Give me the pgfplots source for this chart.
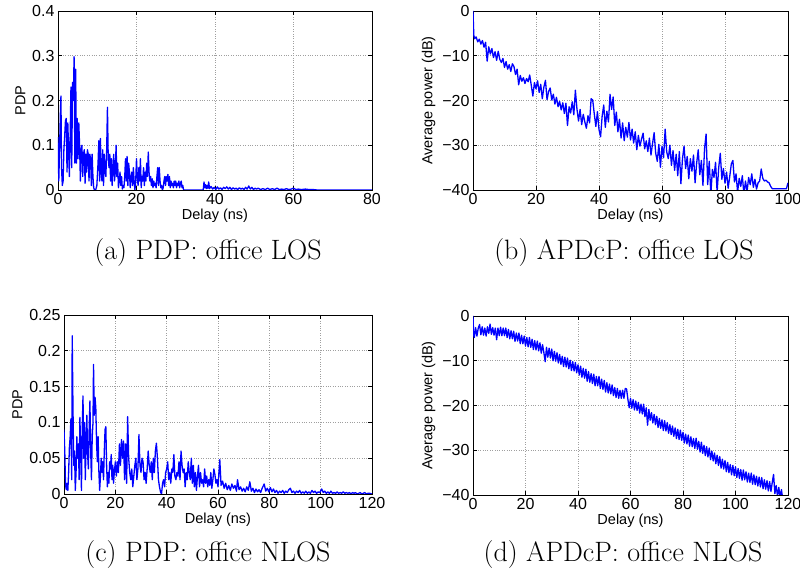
\documentclass[border=0pt]{standalone}
\usepackage{fontspec}
\newfontfamily\helv{Liberation Sans}
\newfontfamily\capfont{lmroman17-regular}[Extension=.otf]
\usepackage{pgfplots}
\usepackage{pgfplotstable}
\pgfplotsset{compat=1.18}

\pgfplotstableread{
x y
0 0.118
0.2 0.02
0.4 0.09
0.6 0.17
0.75 0.21
0.9 0.05
1.1 0.01
1.3 0.02
1.5 0.09
1.7 0.12
1.9 0.155
2.1 0.16
2.3 0.04
2.5 0.15
2.7 0.09
2.9 0.03
3.1 0.12
3.3 0.23
3.5 0.05
3.7 0.24
3.9 0.20
4.1 0.298
4.3 0.06
4.5 0.27
4.7 0.06
4.9 0.16
5.1 0.07
5.3 0.15
5.5 0.10
5.7 0.02
5.9 0.09
6.1 0.10
6.3 0.03
6.5 0.08
6.7 0.09
6.9 0.015
7.1 0.08
7.3 0.04
7.5 0.09
7.7 0.08
7.9 0.02
8.1 0.08
8.3 0.07
8.5 0.01
8.7 0.08
8.9 0.03
9.1 0.005
9.3 0.0
9.6 0.0
9.9 0.01
10.2 0.06
10.4 0.11
10.6 0.02
10.8 0.115
11.0 0.04
11.2 0.02
11.4 0.09
11.6 0.01
11.8 0.08
12.0 0.04
12.2 0.03
12.4 0.09
12.6 0.185
12.8 0.07
13.0 0.05
13.2 0.08
13.4 0.02
13.6 0.07
13.8 0.01
14.0 0.05
14.2 0.08
14.4 0.02
14.6 0.04
14.8 0.10
15.0 0.03
15.2 0.06
15.4 0.005
15.6 0.02
15.8 0.04
16.0 0.01
16.2 0.03
16.4 0.002
16.6 0.01
16.8 0.005
17.0 0.03
17.2 0.07
17.4 0.02
17.6 0.075
17.8 0.01
18.0 0.06
18.2 0.04
18.4 0.005
18.6 0.03
18.8 0.04
19.0 0.01
19.2 0.05
19.4 0.02
19.6 0.0
19.8 0.02
20.0 0.07
20.2 0.03
20.4 0.01
20.6 0.05
20.8 0.02
21.0 0.07
21.2 0.005
21.4 0.03
21.6 0.02
21.8 0.05
22.0 0.01
22.2 0.04
22.4 0.02
22.6 0.06
22.8 0.03
23.0 0.085
23.2 0.04
23.4 0.02
23.6 0.03
23.8 0.01
24.0 0.025
24.2 0.005
24.4 0.02
24.6 0.01
24.8 0.015
25.0 0.005
25.2 0.03
25.4 0.05
25.6 0.01
25.8 0.05
26.0 0.02
26.2 0.005
26.4 0.01
26.6 0.0
26.8 0.005
27.0 0.02
27.2 0.03
27.4 0.01
27.6 0.03
27.8 0.02
28.0 0.035
28.2 0.01
28.4 0.03
28.6 0.005
28.8 0.02
29.0 0.01
29.2 0.015
29.4 0.005
29.6 0.02
29.8 0.01
30.0 0.02
30.2 0.005
30.4 0.015
30.6 0.01
30.8 0.02
31.0 0.005
31.2 0.015
31.4 0.02
31.6 0.005
31.8 0.01
32.0 0.0
37.0 0.0
37.2 0.018
37.4 0.005
37.6 0.012
37.8 0.003
38.0 0.01
38.2 0.004
38.4 0.018
38.6 0.003
39.0 0.008
39.4 0.002
39.8 0.006
40.2 0.001
40.6 0.007
41.0 0.002
41.4 0.005
41.8 0.001
42.2 0.006
42.6 0.003
43.0 0.007
43.4 0.002
43.8 0.006
44.2 0.001
44.6 0.005
45.0 0.002
45.4 0.004
45.8 0.001
46.2 0.005
46.6 0.002
47.0 0.004
47.4 0.001
47.8 0.006
48.2 0.002
48.6 0.009
49.0 0.002
49.4 0.006
49.8 0.001
50.2 0.004
50.6 0.002
51.0 0.004
51.6 0.001
52.2 0.003
52.8 0.001
53.4 0.004
54.0 0.001
54.6 0.003
55.2 0.001
55.8 0.004
56.4 0.001
57.0 0.002
57.6 0.001
58.2 0.003
58.8 0.001
59.4 0.002
60.0 0.004
60.6 0.001
61.2 0.002
62.0 0.001
63.0 0.002
64.0 0.001
65.0 0.001
66.0 0.0
80.0 0.0
}\dataA

\pgfplotstableread{
x y
0 0
0.25 -5.4
0.5 -6.2
1 -5.8
1.5 -6.9
2 -6.3
2.5 -7.4
3 -6.6
3.5 -8.1
4 -7.0
4.5 -11.2
5 -8.0
5.5 -9.6
6 -8.4
6.5 -10.4
7 -9.1
7.5 -11.0
8 -9.0
8.5 -10.8
9 -11.5
9.5 -10.6
10 -12.6
10.5 -11.3
11 -13.0
11.5 -12.0
12 -13.5
12.5 -11.8
13 -12.4
13.5 -14.2
14 -13.0
14.5 -16.5
15 -14.4
15.5 -15.7
16 -14.9
16.5 -16.2
17 -15.1
17.5 -15.8
18 -14.3
18.5 -16.6
19 -19.0
19.5 -16.0
20 -17.4
20.5 -15.6
21 -18.2
21.5 -16.4
22 -19.6
22.5 -17.0
23 -15.5
23.5 -19.8
24 -18.0
24.5 -17.2
25 -19.9
25.5 -18.6
26 -20.8
26.5 -19.3
27 -21.4
27.5 -20.2
28 -22.1
28.5 -20.5
29 -22.9
29.5 -20.6
30 -25.6
30.5 -21.4
31 -22.8
31.5 -20.3
32 -23.2
32.5 -17.7
33 -21.9
33.5 -24.6
34 -22.0
34.5 -25.4
35 -23.1
35.5 -24.8
36 -26.2
36.5 -23.4
37 -25.0
37.5 -19.6
38 -19.9
38.5 -23.0
39 -25.8
39.5 -22.5
40 -26.5
40.5 -28.1
41 -23.5
41.5 -21.0
42 -26.0
42.5 -22.4
43 -24.8
43.5 -18.6
44 -22.0
44.5 -19.2
45 -25.6
45.5 -22.6
46 -27.0
46.5 -24.2
47 -28.4
47.5 -25.0
48 -29.0
48.5 -26.0
49 -28.2
49.5 -24.9
50 -28.8
50.5 -26.4
51 -29.5
51.5 -27.0
52 -31.0
52.5 -27.8
53 -30.2
53.5 -28.6
54 -27.3
54.5 -30.8
55 -29.0
55.5 -31.4
56 -28.4
56.5 -32.2
57 -29.6
57.5 -27.2
58 -31.8
58.5 -33.6
59 -29.8
59.5 -34.9
60 -30.2
60.5 -32.8
61 -26.4
61.5 -31.5
62 -33.0
62.5 -30.0
63 -34.5
63.5 -31.2
64 -35.6
64.5 -32.0
65 -36.8
65.5 -31.4
66 -38.6
66.5 -33.0
67 -30.2
67.5 -35.2
68 -32.5
68.5 -37.5
69 -33.0
69.5 -35.8
70 -32.2
70.5 -38.4
71 -34.0
71.5 -31.0
72 -36.6
72.5 -33.4
73 -39.0
73.5 -30.8
74 -27.5
74.5 -38.8
75 -33.6
75.5 -41.0
76 -35.4
76.5 -37.2
77 -33.8
77.5 -40.5
78 -35.0
78.5 -31.8
79 -37.6
79.5 -35.2
80 -38.5
80.5 -36.0
81 -39.6
81.5 -37.0
82 -34.2
82.5 -33.4
83 -38.2
83.5 -36.4
84 -40.5
84.5 -37.4
85 -39.2
85.5 -36.8
86 -41.0
86.5 -38.0
87 -40.4
87.5 -37.2
88 -38.8
88.5 -36.4
89 -39.4
89.5 -37.6
90 -39.8
90.5 -38.4
91 -38.0
91.5 -35.3
92 -37.4
92.5 -38.0
93 -37.8
93.5 -38.2
94 -38.4
94.5 -39.2
95 -39.7
99.5 -39.7
100 -38.4
}\dataB

\pgfplotstableread{
x y
0 0.09
0.3 0.06
0.6 0.012
0.9 0.006
1.2 0.015
1.5 0.005
1.8 0.03
2.1 0.065
2.4 0.08
2.7 0.105
3.0 0.02
3.2 0.221
3.5 0.12
3.8 0.04
4.1 0.06
4.4 0.005
4.7 0.03
5.0 0.08
5.3 0.05
5.6 0.07
5.9 0.02
6.2 0.107
6.5 0.06
6.8 0.005
7.1 0.09
7.4 0.137
7.7 0.05
8.0 0.10
8.3 0.02
8.6 0.07
8.9 0.11
9.2 0.055
9.5 0.035
9.8 0.09
10.1 0.13
10.4 0.06
10.7 0.02
11.0 0.08
11.3 0.10
11.5 0.181
11.8 0.11
12.1 0.135
12.4 0.12
12.7 0.07
13.0 0.045
13.3 0.08
13.6 0.03
13.9 0.005
14.2 0.025
14.5 0.05
14.8 0.03
15.1 0.045
15.4 0.02
15.7 0.06
16.0 0.09
16.3 0.094
16.6 0.04
16.9 0.01
17.2 0.03
17.5 0.015
17.8 0.045
18.1 0.035
18.4 0.055
18.7 0.02
19.0 0.04
19.3 0.015
19.6 0.03
20.0 0.045
20.4 0.025
20.8 0.045
21.2 0.03
21.6 0.07
22.0 0.04
22.4 0.076
22.8 0.05
23.2 0.074
23.6 0.02
24.0 0.07
24.4 0.015
24.8 0.108
25.2 0.05
25.6 0.03
26.0 0.02
26.4 0.035
26.8 0.01
27.2 0.025
27.6 0.04
28.0 0.05
28.4 0.02
28.8 0.035
29.2 0.083
29.6 0.04
30.0 0.03
30.4 0.05
30.8 0.045
31.2 0.02
31.6 0.03
32.0 0.015
32.4 0.035
32.8 0.06
33.2 0.04
33.6 0.03
34.0 0.045
34.4 0.02
34.8 0.05
35.2 0.03
35.6 0.06
36.0 0.071
36.4 0.05
36.8 0.02
37.2 0.01
37.6 0.003
38.0 0.0
38.4 0.015
38.8 0.02
39.2 0.01
39.6 0.03
40.0 0.035
40.4 0.045
40.8 0.02
41.2 0.03
41.6 0.015
42.0 0.035
42.4 0.03
42.8 0.055
43.2 0.025
43.6 0.02
44.0 0.03
44.4 0.025
44.8 0.045
45.2 0.02
45.6 0.06
46.0 0.04
46.4 0.03
46.8 0.035
47.2 0.01
47.6 0.03
48.0 0.02
48.4 0.045
48.8 0.03
49.2 0.02
49.6 0.05
50.0 0.015
50.4 0.04
50.8 0.01
51.2 0.03
51.6 0.005
52.0 0.025
52.4 0.04
52.8 0.01
53.2 0.03
53.6 0.015
54.0 0.02
54.4 0.01
54.8 0.035
55.2 0.015
55.6 0.025
56.0 0.01
56.4 0.02
56.8 0.012
57.2 0.03
57.6 0.008
58.0 0.02
58.4 0.035
58.8 0.027
59.2 0.015
59.6 0.02
60.0 0.01
60.7 0.048
61.2 0.012
61.8 0.018
62.4 0.008
63.0 0.015
63.6 0.006
64.2 0.012
64.8 0.005
65.4 0.014
66.0 0.008
66.6 0.012
67.2 0.004
67.6 0.02
68.2 0.006
68.8 0.01
69.4 0.004
70.0 0.008
70.6 0.003
71.2 0.01
71.8 0.005
72.4 0.017
73.0 0.004
73.6 0.008
74.2 0.002
74.8 0.007
75.4 0.003
76.0 0.006
76.6 0.002
77.2 0.008
78.0 0.014
78.6 0.004
79.2 0.008
79.8 0.003
80.4 0.009
81.0 0.003
81.6 0.007
82.2 0.002
82.8 0.005
83.4 0.001
84.0 0.004
84.6 0.002
85.2 0.005
85.8 0.001
86.4 0.004
87.0 0.002
87.6 0.006
88.2 0.008
88.8 0.002
89.4 0.004
90.0 0.001
90.6 0.004
91.2 0.002
91.8 0.005
92.4 0.001
93.0 0.003
93.6 0.001
94.2 0.004
94.8 0.001
95.4 0.003
96.0 0.001
96.6 0.005
97.2 0.002
97.8 0.004
98.4 0.001
99.0 0.003
99.6 0.002
100.4 0.007
101.0 0.002
101.6 0.004
102.2 0.001
102.8 0.003
103.4 0.001
104.0 0.004
104.6 0.001
105.2 0.002
105.8 0.001
106.4 0.003
107.0 0.001
107.6 0.002
108.2 0.001
108.8 0.003
109.4 0.001
110.0 0.002
110.6 0.001
111.2 0.002
111.8 0.0
112.4 0.002
113.0 0.001
113.6 0.002
114.2 0.0
114.8 0.001
115.4 0.002
116.0 0.0
116.6 0.001
117.2 0.002
117.8 0.0
118.4 0.001
119.0 0.001
120.0 0.0
}\dataC

\pgfplotstableread{
x y
0 0
0.25 -4.2
0.5 -4.8
1 -2.6
1.5 -4.5
2 -2.7
2.5 -1.9
3 -4.2
3.5 -2.4
4 -4.3
4.5 -2.7
5 -4.5
5.5 -2.4
6 -3.9
6.5 -1.8
7 -4.1
7.5 -2.6
8 -4.3
8.5 -2.7
9 -5.3
9.5 -2.7
10 -4.4
10.5 -2.5
11 -4.4
11.5 -2.7
12 -4.4
12.5 -2.7
13 -4.8
13.5 -3.0
14 -5.1
14.5 -3.3
15 -5.1
15.5 -3.4
16 -5.7
16.5 -3.8
17 -5.6
17.5 -3.8
18 -6.2
18.5 -4.3
19 -6.2
19.5 -4.5
20 -6.7
20.5 -4.8
21 -6.9
21.5 -4.8
22 -7.0
22.5 -5.2
23 -7.5
23.5 -5.5
24 -7.6
24.5 -5.6
25 -7.8
25.5 -6.0
26 -8.3
26.5 -6.4
27 -8.2
27.5 -10.2
28 -7.0
28.5 -9.2
29 -7.2
29.5 -9.4
30 -7.4
30.5 -10.0
31 -7.9
31.5 -10.1
32 -8.2
32.5 -10.5
33 -8.6
33.5 -10.8
34 -9.0
34.5 -11.3
35 -9.2
35.5 -11.4
36 -9.4
36.5 -11.8
37 -9.9
37.5 -12.2
38 -10.2
38.5 -12.3
39 -10.4
39.5 -12.7
40 -10.9
40.5 -13.2
41 -11.2
41.5 -13.7
42 -11.7
42.5 -13.9
43 -11.9
43.5 -14.6
44 -12.4
44.5 -14.8
45 -12.9
45.5 -15.1
46 -13.0
46.5 -15.6
47 -13.5
47.5 -15.6
48 -13.5
48.5 -16.2
49 -14.1
49.5 -16.4
50 -14.4
50.5 -17.0
51 -14.9
51.5 -17.2
52 -15.2
52.5 -17.4
53 -15.4
53.5 -17.8
54 -16.0
54.5 -18.2
55 -16.2
55.5 -18.4
56 -16.6
56.5 -18.4
57 -16.6
57.5 -18.4
58 -16.2
58.5 -16.3
59 -18.6
59.5 -20.5
60 -18.4
60.5 -20.6
61 -18.7
61.5 -21.0
62 -19.0
62.5 -21.1
63 -19.3
63.5 -21.7
64 -19.7
64.5 -21.9
65 -19.7
65.5 -22.5
66 -20.5
66.5 -24.4
67 -20.9
67.5 -23.3
68 -21.6
68.5 -23.9
69 -22.0
69.5 -24.3
70 -22.4
70.5 -24.9
71 -22.9
71.5 -25.1
72 -23.2
72.5 -25.6
73 -23.4
73.5 -25.7
74 -23.8
74.5 -26.2
75 -24.3
75.5 -26.5
76 -24.6
76.5 -26.9
77 -25.0
77.5 -27.4
78 -25.3
78.5 -27.6
79 -25.5
79.5 -27.8
80 -26.0
80.5 -28.4
81 -26.4
81.5 -28.6
82 -26.6
82.5 -29.1
83 -27.0
83.5 -29.2
84 -27.4
84.5 -29.6
85 -27.3
85.5 -29.8
86 -28.0
86.5 -30.4
87 -28.2
87.5 -30.7
88 -28.9
88.5 -31.2
89 -29.2
89.5 -31.5
90 -29.5
90.5 -32.1
91 -30.2
91.5 -32.4
92 -30.6
92.5 -33.0
93 -31.1
93.5 -33.4
94 -31.4
94.5 -34.0
95 -32.0
95.5 -34.2
96 -32.3
96.5 -34.8
97 -32.7
97.5 -35.0
98 -33.2
98.5 -35.5
99 -33.4
99.5 -35.7
100 -33.7
100.5 -36.1
101 -34.1
101.5 -36.3
102 -34.3
102.5 -36.7
103 -34.4
103.5 -36.6
104 -34.8
104.5 -37.1
105 -35.1
105.5 -37.2
106 -35.1
106.5 -37.6
107 -35.5
107.5 -37.7
108 -35.8
108.5 -38.0
109 -36.0
109.5 -38.2
110 -36.1
110.5 -38.6
111 -36.6
111.5 -38.7
112 -36.8
112.5 -39.1
113 -37.0
113.5 -39.2
114 -37.2
114.5 -35.4
115 -39.7
115.5 -37.9
116 -40.3
116.5 -38.3
117 -40.6
117.5 -38.8
118 -41.0
}\dataD

\pgfplotsset{
  panel/.style={
    scale only axis,
    anchor=south west,
    axis line style={black, line width=0.9pt},
    tick align=inside,
    major tick length=4pt,
    tick style={black, line width=0.6pt},
    grid=major,
    major grid style={dotted, gray!75, line width=0.6pt},
    tick label style={font=\helv\fontsize{16}{16}\selectfont},
    label style={font=\helv\fontsize{14.5}{15}\selectfont},
    xlabel style={yshift=3pt},
    xlabel={Delay (ns)},
  },
  trace/.style={draw=blue, line width=1.3pt, mark=none, line join=round},
}

\begin{document}
\begin{tikzpicture}
\useasboundingbox (0pt,0pt) rectangle (800pt,575pt);

% (a)
\begin{axis}[panel, at={(58pt,385pt)}, width=314pt, height=179pt,
  xmin=0, xmax=80, ymin=0, ymax=0.4,
  xtick={0,20,40,60,80}, xticklabels={0,20,40,60,80},
  ytick={0,0.1,0.2,0.3,0.4}, yticklabels={0,0.1,0.2,0.3,0.4},
  ylabel={PDP}]
\addplot[trace] table {\dataA};
\end{axis}

% (b)
\begin{axis}[panel, at={(473pt,385pt)}, width=315pt, height=179pt,
  xmin=0, xmax=100, ymin=-40, ymax=0,
  xtick={0,20,40,60,80,100}, xticklabels={0,20,40,60,80,100},
  ytick={-40,-30,-20,-10,0}, yticklabels={−40,−30,−20,−10,0},
  ylabel={Average power (dB)}]
\addplot[trace] table {\dataB};
\end{axis}

% (c)
\begin{axis}[panel, at={(64pt,81pt)}, width=308pt, height=179pt,
  xmin=0, xmax=120, ymin=0, ymax=0.25,
  xtick={0,20,40,60,80,100,120}, xticklabels={0,20,40,60,80,100,120},
  ytick={0,0.05,0.1,0.15,0.2,0.25}, yticklabels={0,0.05,0.1,0.15,0.2,0.25},
  ylabel={PDP}]
\addplot[trace] table {\dataC};
\end{axis}

% (d)
\begin{axis}[panel, at={(473pt,80pt)}, width=315pt, height=179pt,
  xmin=0, xmax=120, ymin=-40, ymax=0,
  xtick={0,20,40,60,80,100,120}, xticklabels={0,20,40,60,80,100,120},
  ytick={-40,-30,-20,-10,0}, yticklabels={−40,−30,−20,−10,0},
  ylabel={Average power (dB)}]
\addplot[trace] table {\dataD};
\end{axis}

\node[font=\capfont\fontsize{28}{32}\selectfont] at (208pt,322pt) {(a) PDP: office LOS};
\node[font=\capfont\fontsize{28}{32}\selectfont] at (624pt,322pt) {(b) APDcP: office LOS};
\node[font=\capfont\fontsize{28}{32}\selectfont] at (208pt,20pt) {(c) PDP: office NLOS};
\node[font=\capfont\fontsize{28}{32}\selectfont] at (623pt,20pt) {(d) APDcP: office NLOS};
\end{tikzpicture}
\end{document}
